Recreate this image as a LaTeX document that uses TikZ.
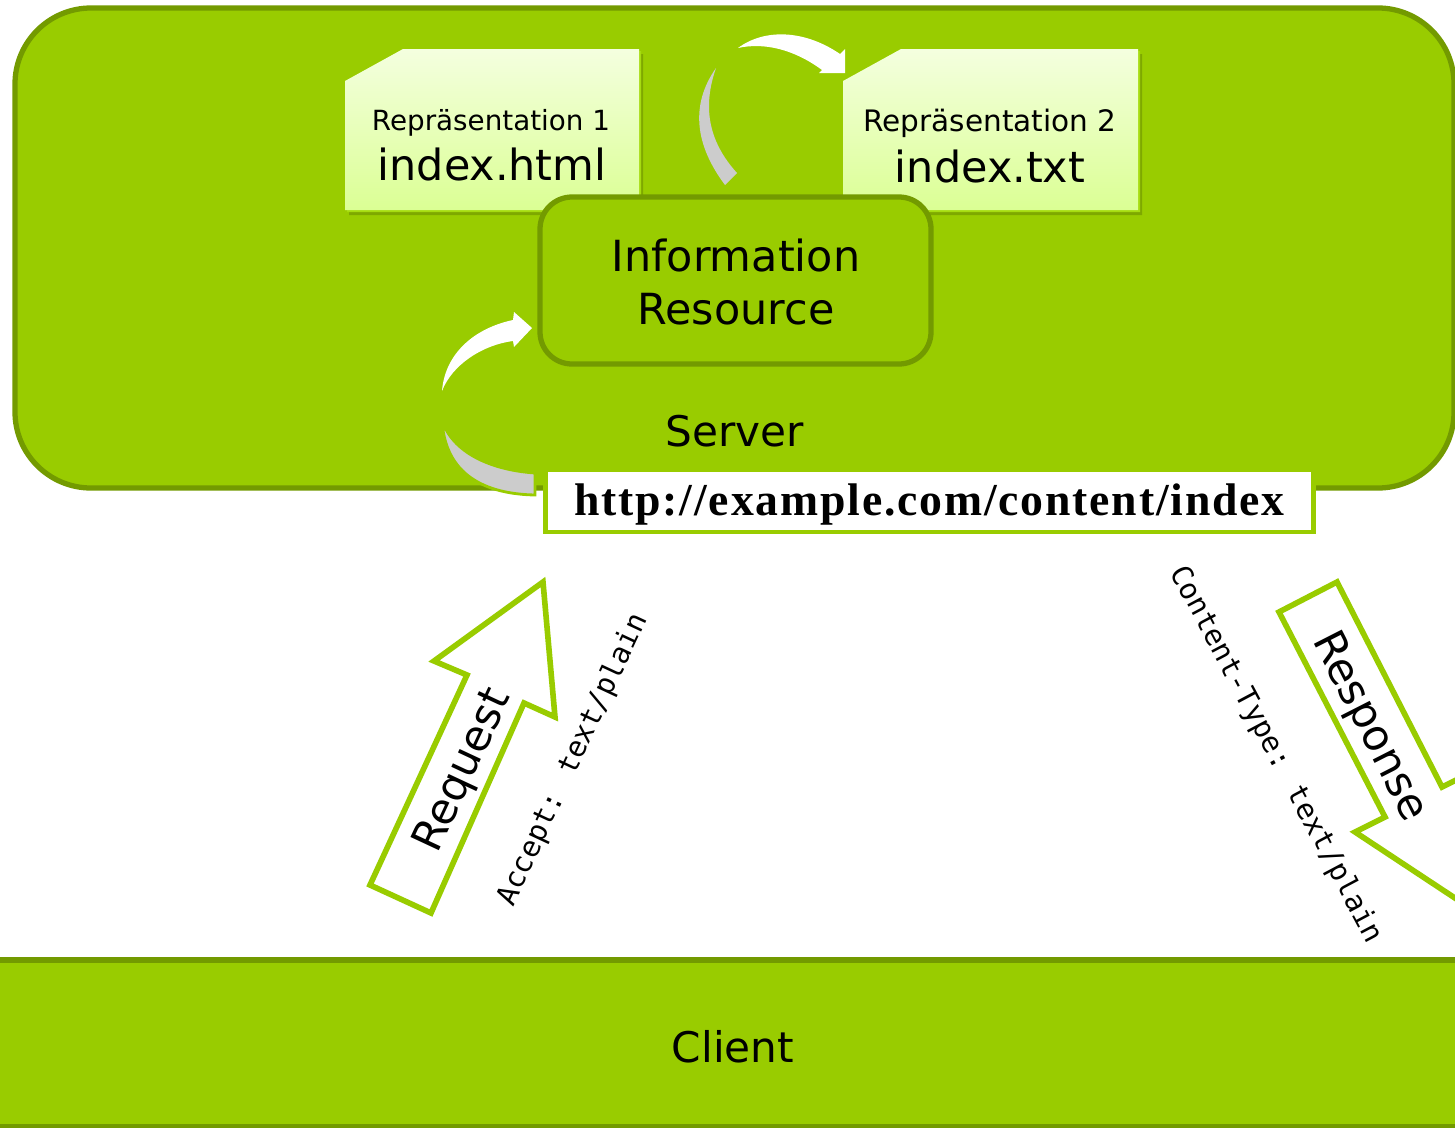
\documentclass[tikz,border=0pt]{standalone}
\usepackage{fontspec}
\setmainfont{DejaVu Sans}
\newfontfamily\urlfont[LetterSpace=4]{Liberation Serif}
\newfontfamily\hdrfont{DejaVu Sans Mono}
\usetikzlibrary{shadows}
\definecolor{panelgreen}{HTML}{99CC00}
\definecolor{edgegreen}{HTML}{739A00}
\definecolor{linegreen}{HTML}{99CC00}
\definecolor{docline}{HTML}{A6DC10}
\definecolor{doctop}{HTML}{F4FFDF}
\definecolor{docbottom}{HTML}{DBFF94}
\definecolor{crescent}{HTML}{CCCCCC}
\tikzset{
	panel/.style={fill=panelgreen, draw=edgegreen, line width=1.5pt},
	doc/.style={top color=doctop, bottom color=docbottom, draw=none,
		drop shadow={shadow xshift=0.4mm, shadow yshift=-0.5mm, fill=edgegreen, opacity=0.7},
		drop shadow={shadow xshift=0.2mm, shadow yshift=-0.2mm, fill=docline, opacity=1}},
	bigarrow/.style={fill=white, draw=linegreen, line width=1.6pt, miter limit=10},
	label/.style={text=black, align=center, inner sep=0pt},
	hdr/.style={label, font=\hdrfont\fontsize{8.2}{10}\selectfont},
}
\begin{document}
\begin{tikzpicture}[x=0.01cm, y=-0.01cm]
	\clip (0,0) rectangle (1455,1127);
	\fill[white] (0,0) rectangle (1455,1127);
	% panels
	\draw[panel, rounded corners=0.76cm] (15,8) rectangle (1454,488);
	\draw[panel] (-10,960) rectangle (1465,1127);
	\node[label, font=\fontsize{12}{14}\selectfont] (server) at (735,431) {Server};
	\node[label, font=\fontsize{12}{14}\selectfont] (client) at (733,1047) {Client};
	% representations
	\path[doc] (345,81) -- (403,49) -- (639,49) -- (639,210) -- (345,210) -- cycle;
	\path[doc] (843,81) -- (901,49) -- (1138,49) -- (1138,210) -- (843,210) -- cycle;
	\node[label, font=\fontsize{7.9}{10}\selectfont] (rep1) at (491,123) {Repräsentation 1};
	\node[label, font=\fontsize{12.2}{14}\selectfont] (html) at (492,165) {index.html};
	\node[label, font=\fontsize{8.4}{10}\selectfont] (rep2) at (990,123) {Repräsentation 2};
	\node[label, font=\fontsize{12.2}{14}\selectfont] (txt) at (990,167) {index.txt};
	% resource
	\draw[panel, rounded corners=0.32cm] (540,197) rectangle (931,364);
	\node[label, font=\fontsize{12.2}{14.8}\selectfont] (resource) at (736,282) {Information\\Resource};
	% curved arrows
	\fill[crescent] (716,68) .. controls (690,105) and (695,145) .. (725,185) -- (737,173) .. controls (707,140) and (703,105) .. (716,68) -- cycle;
	\fill[white] (738,48) .. controls (765,28) and (805,30) .. (840,54) -- (845,49) -- (845,73) -- (819,73) -- (822,70) .. controls (795,50) and (765,42) .. (738,48) -- cycle;
	\filldraw[crescent, draw=linegreen, line width=0.8pt] (442,420) .. controls (445,475) and (485,494) .. (535,495) -- (535,473) .. controls (490,470) and (452,452) .. (442,420) -- cycle;
	\fill[white] (442,391) .. controls (445,353) and (475,328) .. (513,320) -- (514,312) -- (532,328) -- (514,347) -- (513,341) .. controls (482,345) and (452,365) .. (442,391) -- cycle;
	% url
	\node[draw=linegreen, fill=white, line width=1.4pt, minimum width=7.68cm, minimum height=0.62cm, inner sep=0pt, text height=9pt, text depth=1pt, font=\urlfont\bfseries\fontsize{13}{14}\selectfont] (url) at (929.5,501) {http://example.com/content/index};
	% request and response
	\draw[bigarrow] (431,913) -- (370,885) -- (467,675) -- (434,661) -- (543,582) -- (555,717) -- (524,703) -- cycle;
	\draw[bigarrow] (1279,612) -- (1337,582) -- (1442,787) -- (1472,772) -- (1467,906) -- (1355,832) -- (1385,817) -- cycle;
	\node[label, rotate=65, font=\fontsize{12.2}{14}\selectfont] (request) at (464,771) {Request};
	\node[label, rotate=-63, font=\fontsize{12.2}{14}\selectfont] (response) at (1369,727) {Response};
	\node[hdr, rotate=65] (accept) at (573,760) {Accept: text/plain};
	\node[hdr, rotate=-62] (ctype) at (1276,755) {Content-Type: text/plain};
\end{tikzpicture}
\end{document}
